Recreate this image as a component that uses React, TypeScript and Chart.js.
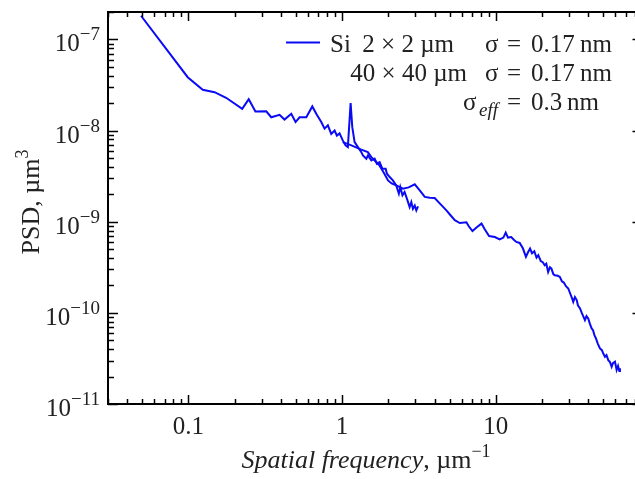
import React, { useEffect, useRef } from "react";
import { Chart, registerables } from "chart.js";
Chart.register(...registerables);

// Series: Si 40×40 µm scan (low spatial frequencies)
const freq40 = [0.0492, 0.099, 0.124, 0.148, 0.176, 0.224, 0.247, 0.273, 0.321, 0.346, 0.392, 0.422, 0.467, 0.498, 0.529, 0.585, 0.64, 0.679, 0.732, 0.769, 0.808, 0.85, 0.894, 0.925, 0.963, 1.01, 1.053, 1.09, 1.136, 1.165, 1.206, 1.268, 1.334, 1.366, 1.438, 1.473, 1.55, 1.628, 1.685, 1.755, 1.827, 1.92, 1.958, 2.04, 2.14, 2.25, 2.34, 2.39, 2.47, 2.55, 2.64, 2.75, 2.82, 2.89, 2.97, 3.04, 3.12];
const psd40 = [1.82e-7, 3.85e-8, 2.8e-8, 2.64e-8, 2.29e-8, 1.73e-8, 2.21e-8, 1.62e-8, 1.63e-8, 1.4e-8, 1.49e-8, 1.32e-8, 1.53e-8, 1.24e-8, 1.4e-8, 1.4e-8, 1.84e-8, 1.53e-8, 1.24e-8, 1.05e-8, 1.14e-8, 9.2e-9, 1.0e-8, 8.8e-9, 9.3e-9, 7.8e-9, 6.87e-9, 6.58e-9, 2.0e-8, 1.09e-8, 7.46e-9, 6.58e-9, 5.8e-9, 5.34e-9, 4.91e-9, 5.34e-9, 4.7e-9, 4.91e-9, 4.33e-9, 4.51e-9, 3.82e-9, 3.82e-9, 3.36e-9, 3.09e-9, 2.84e-9, 2.5e-9, 2.03e-9, 2.4e-9, 1.95e-9, 2.12e-9, 1.79e-9, 1.45e-9, 1.64e-9, 1.39e-9, 1.51e-9, 1.33e-9, 1.47e-9];

// Series: Si 2×2 µm scan (high spatial frequencies)
const freq2 = [1.01, 1.15, 1.32, 1.47, 1.55, 1.63, 1.7, 1.75, 1.86, 1.99, 2.1, 2.25, 2.49, 2.71, 2.97, 3.2, 3.45, 3.72, 4.0, 4.38, 4.77, 5.09, 5.41, 5.83, 6.44, 6.67, 7.05, 7.52, 8.07, 8.47, 9.04, 9.85, 10.6, 11.2, 11.6, 12.0, 12.6, 13.1, 13.6, 14.3, 15.0, 15.7, 16.2, 16.7, 17.2, 17.8, 18.4, 18.9, 19.6, 20.2, 20.8, 21.3, 21.9, 22.5, 23.0, 23.7, 24.2, 25.3, 26.1, 26.9, 27.7, 28.6, 29.6, 30.6, 31.3, 31.9, 32.7, 33.6, 34.2, 35.3, 36.3, 38.0, 38.9, 39.9, 41.0, 42.0, 42.9, 43.8, 44.8, 46.2, 47.6, 49.0, 50.2, 51.3, 52.5, 53.9, 55.3, 56.7, 57.8, 59.6, 61.1, 62.4, 63.6, 64.2];
const psd2 = [7.46e-9, 6.87e-9, 6.21e-9, 5.8e-9, 5.11e-9, 4.7e-9, 4.36e-9, 4.15e-9, 3.48e-9, 2.84e-9, 2.63e-9, 2.5e-9, 2.3e-9, 2.38e-9, 2.57e-9, 2.21e-9, 1.87e-9, 1.83e-9, 1.82e-9, 1.55e-9, 1.33e-9, 1.17e-9, 1.04e-9, 9.68e-10, 9.85e-10, 8.91e-10, 7.91e-10, 8.68e-10, 9.53e-10, 8.26e-10, 6.97e-10, 6.8e-10, 6.41e-10, 6.7e-10, 7.6e-10, 6.7e-10, 6.8e-10, 6.34e-10, 6.0e-10, 5.85e-10, 5.11e-10, 4.11e-10, 4.62e-10, 5.07e-10, 4.51e-10, 4.74e-10, 4.04e-10, 4.29e-10, 3.71e-10, 3.59e-10, 3.33e-10, 3.46e-10, 2.81e-10, 3.17e-10, 3.06e-10, 2.65e-10, 2.59e-10, 2.55e-10, 2.48e-10, 2.22e-10, 2.15e-10, 1.96e-10, 1.85e-10, 1.6e-10, 1.45e-10, 1.32e-10, 1.49e-10, 1.38e-10, 1.21e-10, 1.12e-10, 9.93e-11, 8.32e-11, 9.2e-11, 8.68e-11, 7.52e-11, 6.75e-11, 6.46e-11, 5.7e-11, 5.24e-11, 4.54e-11, 4.07e-11, 3.9e-11, 3.53e-11, 3.3e-11, 3.44e-11, 3.03e-11, 2.88e-11, 2.56e-11, 2.81e-11, 2.91e-11, 2.36e-11, 2.61e-11, 2.3e-11, 2.46e-11];

// Axes
const xMin = 0.03;
const xMax = 90;
const yMin = 1e-11;
const yMax = 2e-7;
const xTickValues = [0.1, 1, 10];
const xTickLabels = ["0.1", "1", "10"];
const yTickExponents = [-7, -8, -9, -10, -11];

// Texts
const xTitleItalic = "Spatial frequency";
const xTitleUnit = ", \u00b5m";
const xTitleSup = "\u22121";
const yTitleMain = "PSD, \u00b5m";
const yTitleSup = "3";
const legendMaterial = "Si";
const legendScans = ["2 \u00d7 2 \u00b5m", "40 \u00d7 40 \u00b5m"];
const legendSigmas = ["0.17", "0.17"];
const sigmaEff = "0.3";

const LINE_COLOR = "#0a0af5";
const TEXT_COLOR = "#222";
const SERIF = '"Liberation Serif", "Times New Roman", serif';

function zip(xs: number[], ys: number[]) {
  const n = Math.min(xs.length, ys.length);
  const out: { x: number; y: number }[] = [];
  for (let i = 0; i < n; i++) out.push({ x: xs[i], y: ys[i] });
  return out;
}

const decorPlugin = {
  id: "decor",
  afterDraw(chart: any) {
    const { ctx, chartArea: a, scales } = chart;
    const xs = scales.x;
    const ys = scales.y;
    ctx.save();
    ctx.strokeStyle = "#000";
    ctx.lineCap = "butt";
    const seg = (x1: number, y1: number, x2: number, y2: number) => {
      ctx.beginPath();
      ctx.moveTo(x1, y1);
      ctx.lineTo(x2, y2);
      ctx.stroke();
    };
    // x ticks (bottom & top, inward)
    ctx.lineWidth = 1.5;
    for (let e = -2; e <= 2; e++) {
      for (let k = 1; k <= 9; k++) {
        const v = k * Math.pow(10, e);
        if (v < xMin || v > xMax) continue;
        const px = Math.round(xs.getPixelForValue(v)) + 0.5;
        const len = k === 1 ? 9 : 5;
        seg(px, a.bottom, px, a.bottom - len);
        seg(px, a.top, px, a.top + len);
      }
    }
    // y ticks (left & right, inward)
    for (let e = -12; e <= -6; e++) {
      for (let k = 1; k <= 9; k++) {
        const v = k * Math.pow(10, e);
        if (v < yMin * 0.999 || v > yMax * 1.001) continue;
        const py = Math.round(ys.getPixelForValue(v)) + 0.5;
        const len = k === 1 ? 10 : 6;
        seg(a.left, py, a.left + len, py);
        seg(a.right, py, a.right - len, py);
      }
    }
    // frame
    ctx.lineWidth = 2;
    ctx.strokeRect(a.left, a.top, a.right - a.left, a.bottom - a.top);

    ctx.fillStyle = TEXT_COLOR;
    ctx.textBaseline = "alphabetic";
    // x tick labels
    ctx.font = `25px ${SERIF}`;
    ctx.textAlign = "center";
    xTickValues.forEach((v, i) => {
      ctx.fillText(xTickLabels[i], xs.getPixelForValue(v), a.bottom + 30);
    });
    // y tick labels 10^e
    yTickExponents.forEach((e) => {
      const py = ys.getPixelForValue(Math.pow(10, e));
      const sup = "\u2212" + String(-e);
      ctx.font = `19px ${SERIF}`;
      const wSup = ctx.measureText(sup).width;
      ctx.font = `25px ${SERIF}`;
      const wBase = ctx.measureText("10").width;
      const right = 100;
      ctx.textAlign = "left";
      ctx.fillText("10", right - wSup - wBase, py + 12);
      ctx.font = `19px ${SERIF}`;
      ctx.fillText(sup, right - wSup, py + 1);
    });
    // x title
    ctx.textAlign = "left";
    ctx.font = `italic 26px ${SERIF}`;
    const w1 = ctx.measureText(xTitleItalic).width;
    ctx.font = `26px ${SERIF}`;
    const w2 = ctx.measureText(xTitleUnit).width;
    ctx.font = `18px ${SERIF}`;
    const w3 = ctx.measureText(xTitleSup).width;
    const x0 = 366 - (w1 + w2 + w3) / 2;
    const xb = 468;
    ctx.font = `italic 26px ${SERIF}`;
    ctx.fillText(xTitleItalic, x0, xb);
    ctx.font = `26px ${SERIF}`;
    ctx.fillText(xTitleUnit, x0 + w1, xb);
    ctx.font = `18px ${SERIF}`;
    ctx.fillText(xTitleSup, x0 + w1 + w2, xb - 11);
    // y title (rotated)
    ctx.save();
    ctx.translate(39, 202);
    ctx.rotate(-Math.PI / 2);
    ctx.font = `26px ${SERIF}`;
    const wy1 = ctx.measureText(yTitleMain).width;
    ctx.font = `18px ${SERIF}`;
    const wy2 = ctx.measureText(yTitleSup).width;
    const y0 = -(wy1 + wy2) / 2;
    ctx.font = `26px ${SERIF}`;
    ctx.fillText(yTitleMain, y0, 0);
    ctx.font = `18px ${SERIF}`;
    ctx.fillText(yTitleSup, y0 + wy1, -11);
    ctx.restore();

    // legend
    ctx.strokeStyle = LINE_COLOR;
    ctx.lineWidth = 2;
    seg(286, 42.5, 320, 42.5);
    ctx.font = `25px ${SERIF}`;
    ctx.textAlign = "left";
    const rows = [52, 81];
    ctx.fillText(legendMaterial, 330, rows[0]);
    ctx.textAlign = "right";
    ctx.fillText(legendScans[0], 454, rows[0]);
    ctx.fillText(legendScans[1], 467, rows[1]);
    ctx.textAlign = "left";
    rows.forEach((yb, i) => {
      ctx.fillText("\u03c3", 485, yb);
      ctx.fillText("=", 507, yb);
      ctx.fillText(legendSigmas[i], 531, yb);
      ctx.fillText("nm", 580, yb);
    });
    const yb3 = 110;
    ctx.fillText("\u03c3", 463, yb3);
    ctx.font = `italic 19px ${SERIF}`;
    ctx.fillText("eff", 479, yb3 + 6);
    ctx.font = `25px ${SERIF}`;
    ctx.fillText("=", 507, yb3);
    ctx.fillText(sigmaEff, 531, yb3);
    ctx.fillText("nm", 567, yb3);
    ctx.restore();
  },
};

export default function App() {
  const ref = useRef<HTMLCanvasElement | null>(null);
  useEffect(() => {
    if (!ref.current) return;
    const chart = new Chart(ref.current, {
      type: "line",
      data: {
        datasets: [
          {
            label: "Si 40×40 µm",
            data: zip(freq40, psd40),
            borderColor: LINE_COLOR,
            borderWidth: 2,
            pointRadius: 0,
            tension: 0,
            fill: false,
          },
          {
            label: "Si 2×2 µm",
            data: zip(freq2, psd2),
            borderColor: LINE_COLOR,
            borderWidth: 2,
            pointRadius: 0,
            tension: 0,
            fill: false,
          },
        ],
      },
      options: {
        animation: false,
        responsive: false,
        devicePixelRatio: 1,
        layout: { padding: { left: 108, top: 12, right: 17.5, bottom: 75 } },
        plugins: { legend: { display: false }, tooltip: { enabled: false } },
        scales: {
          x: { type: "logarithmic", min: xMin, max: xMax, display: false },
          y: { type: "logarithmic", min: yMin, max: yMax, display: false },
        },
      },
      plugins: [decorPlugin],
    });
    return () => chart.destroy();
  }, []);
  return (
    <div
      style={{
        position: "fixed",
        left: 0,
        top: 0,
        width: 635,
        height: 479,
        overflow: "hidden",
        background: "#fff",
      }}
    >
      <canvas ref={ref} width={660} height={479} style={{ display: "block" }} />
    </div>
  );
}
